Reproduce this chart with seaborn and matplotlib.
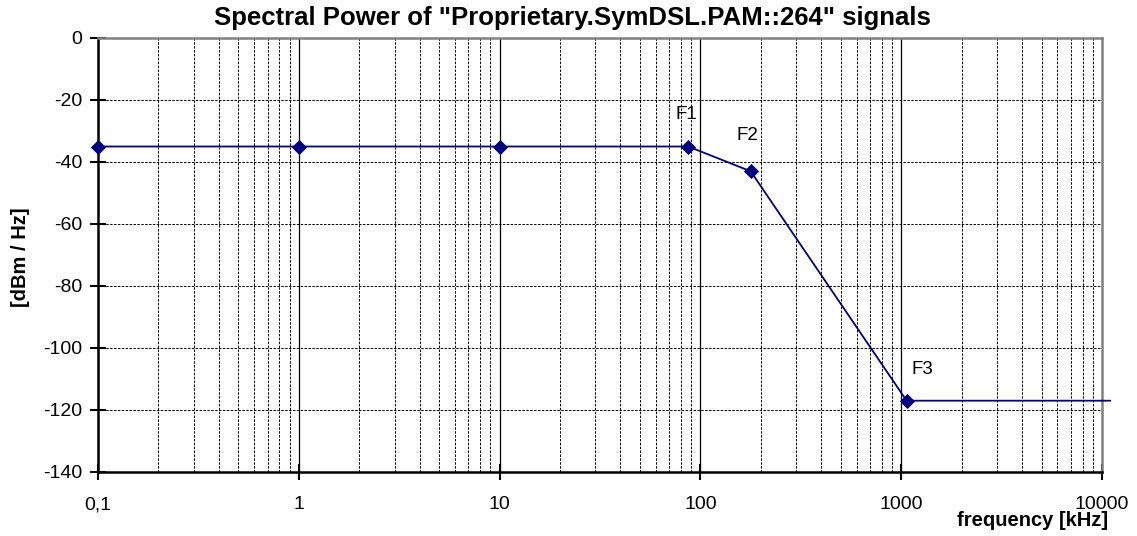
import numpy as np
import pandas as pd
import matplotlib
matplotlib.use("Agg")
import matplotlib.pyplot as plt
import matplotlib.ticker as mticker
import seaborn as sns

# Spectral mask breakpoints (frequency in kHz, power density in dBm/Hz)
freq_khz = [0.1, 1, 10, 87, 178, 1064, 11000]
power_dbm = [-35, -35, -35, -35, -43, -117, -117]
marked = [True, True, True, True, True, True, False]
point_labels = {"F1": 3, "F2": 4, "F3": 5}
x_ticks = [0.1, 1, 10, 100, 1000, 10000]
x_tick_labels = ["0,1", "1", "10", "100", "1000", "10000"]
y_ticks = [0, -20, -40, -60, -80, -100, -120, -140]

sns.set_style("white")
plt.rcParams["font.family"] = ["Liberation Sans", "DejaVu Sans"]
plt.rcParams.update({
    "text.color": "black",
    "axes.labelcolor": "black",
    "xtick.color": "black",
    "ytick.color": "black",
})

df = pd.DataFrame({"freq": freq_khz, "power": power_dbm, "marked": marked})

fig = plt.figure(figsize=(11.37, 5.36), dpi=100)
ax = fig.add_axes([98 / 1137, 64 / 536, 1004 / 1137, 434 / 536])

navy = "#000080"
sns.lineplot(data=df, x="freq", y="power", ax=ax, color=navy, lw=1.3,
             clip_on=False, zorder=4)
mk = df[df["marked"]]
sns.scatterplot(data=mk, x="freq", y="power", ax=ax, color=navy, marker="D",
                s=60, edgecolor=navy, linewidth=0, zorder=5, clip_on=False)

ax.set_xscale("log")
ax.set_xlim(0.1, 10000)
ax.set_ylim(-140, 0)

# Grid: solid at decades, dashed minor verticals and dashed horizontals
ax.xaxis.set_minor_locator(mticker.LogLocator(base=10, subs=np.arange(2, 10)))
ax.xaxis.set_minor_formatter(mticker.NullFormatter())
ax.set_xticks(x_ticks)
ax.set_xticklabels(x_tick_labels)
ax.set_yticks(y_ticks)
ax.set_yticklabels([str(v) for v in y_ticks])

for xv in x_ticks[1:-1]:
    ax.axvline(xv, color="black", lw=0.9, zorder=1)
ax.grid(True, which="minor", axis="x", color="black", lw=0.7, ls=(0, (2.5, 1.5)), zorder=1)
for yv in y_ticks[1:-1]:
    ax.axhline(yv, color="black", lw=0.7, ls=(0, (2.5, 1.5)), zorder=1)

for side in ["top", "right"]:
    ax.spines[side].set_color("#808080")
    ax.spines[side].set_linewidth(1.8)
for side in ["left", "bottom"]:
    ax.spines[side].set_color("black")
    ax.spines[side].set_linewidth(1.8)

ax.tick_params(axis="both", which="major", direction="inout", length=11,
               width=1.5, color="black", labelsize=14, bottom=True, left=True)
ax.tick_params(axis="x", which="major", pad=12)
ax.tick_params(axis="y", which="major", pad=6)
ax.tick_params(axis="x", which="minor", length=0)

label_offsets = {"F1": (-1.4, 22.7), "F2": (-2.5, 25.6), "F3": (11.2, 22.3)}
for name, i in point_labels.items():
    ax.annotate(name, (freq_khz[i], power_dbm[i]), xytext=label_offsets[name],
                textcoords="offset points", ha="center", va="center", fontsize=13.5)

ax.set_xlabel("")
ax.set_ylabel("")
fig.text(21 / 1137, 1 - 257 / 536, "[dBm / Hz]", rotation=90, ha="center", va="center",
         fontsize=14.5, fontweight="bold")
fig.text(1108 / 1137, 1 - 521 / 536, "frequency [kHz]", ha="right", va="center",
         fontsize=14.5, fontweight="bold")
fig.text(572 / 1137, 1 - 18 / 536, 'Spectral Power of "Proprietary.SymDSL.PAM::264" signals',
         ha="center", va="center", fontsize=18.5, fontweight="bold")

fig.savefig("out.png", dpi=100)
